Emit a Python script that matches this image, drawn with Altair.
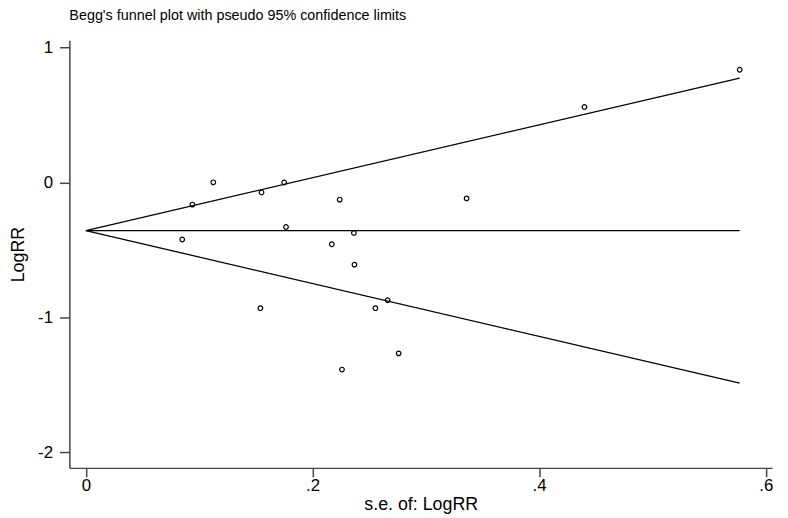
import altair as alt
import pandas as pd

# Study points
se = [0.1124, 0.094, 0.155, 0.085, 0.175, 0.224, 0.1766, 0.2365, 0.217, 0.237,
      0.154, 0.2555, 0.2663, 0.276, 0.226, 0.336, 0.440, 0.577]
logrr = [0.0, -0.165, -0.075, -0.424, -0.001, -0.128, -0.331, -0.375, -0.459, -0.610,
         -0.933, -0.933, -0.874, -1.268, -1.388, -0.119, 0.559, 0.835]

# Funnel lines (endpoints)
line_id = ["upper", "upper", "pooled", "pooled", "lower", "lower"]
line_se = [0.0, 0.577, 0.0, 0.577, 0.0, 0.577]
line_y = [-0.358, 0.773, -0.358, -0.358, -0.358, -1.489]

x_ticks = [0, 0.2, 0.4, 0.6]
y_ticks = [-2, -1, 0, 1]

pts = pd.DataFrame({"se": se, "logrr": logrr})
lines = pd.DataFrame({"id": line_id, "se": line_se, "logrr": line_y})

FONT = "Liberation Sans"
xscale = alt.Scale(domain=[-0.0146, 0.6056], nice=False, zero=False)
yscale = alt.Scale(domain=[-2.117, 1.053], nice=False, zero=False)

xaxis = alt.Axis(values=x_ticks, title="s.e. of: LogRR", grid=False,
                 labelExpr="datum.value == 0 ? '0' : '.' + format(datum.value*10, 'd')",
                 tickSize=9, labelPadding=1, titlePadding=2,
                 labelFontSize=17, titleFontSize=18, titleFontWeight="normal",
                 labelFont=FONT, titleFont=FONT, labelColor="#000", titleColor="#000",
                 domainColor="#444", domainWidth=1.5, tickColor="#444", tickWidth=1.5)
yaxis = alt.Axis(values=y_ticks, title="LogRR", grid=False,
                 labelExpr="'' + datum.value",
                 tickSize=10, labelPadding=7, titlePadding=10,
                 labelFontSize=17, titleFontSize=18, titleFontWeight="normal",
                 labelFont=FONT, titleFont=FONT, labelColor="#000", titleColor="#000",
                 domainColor="#444", domainWidth=1.5, tickColor="#444", tickWidth=1.5)

line_layer = alt.Chart(lines).mark_line(color="black", strokeWidth=1.3).encode(
    x=alt.X("se:Q", scale=xscale, axis=xaxis),
    y=alt.Y("logrr:Q", scale=yscale, axis=yaxis),
    detail="id:N",
)

point_layer = alt.Chart(pts).mark_point(shape="circle", filled=False, color="black",
                                         size=22, strokeWidth=1.2, opacity=1).encode(
    x=alt.X("se:Q", scale=xscale),
    y=alt.Y("logrr:Q", scale=yscale),
)

chart = alt.layer(line_layer, point_layer).properties(
    width=710, height=432,
    background="white",
    title=alt.TitleParams("Begg's funnel plot with pseudo 95% confidence limits",
                          anchor="start", frame="group", font=FONT, fontSize=14.5,
                          fontWeight="normal", color="#000", offset=15),
    autosize=alt.AutoSizeParams(type="none"),
    padding={"left": 62, "top": 30, "right": 8, "bottom": 48},
).configure_view(stroke="transparent", strokeWidth=0)

chart.save("out.html", embed_options={"renderer": "svg", "actions": False})
